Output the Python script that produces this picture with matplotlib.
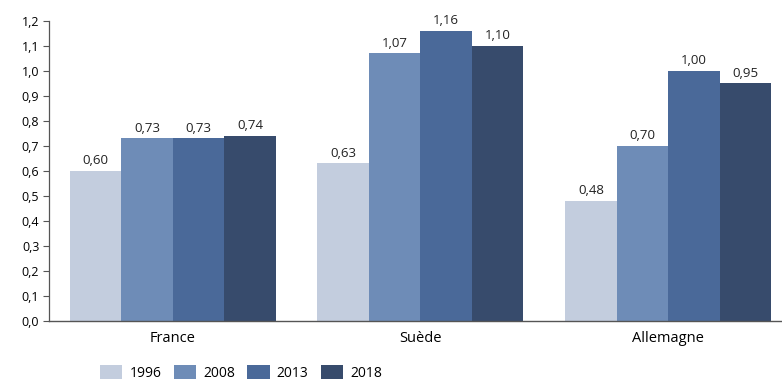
import matplotlib
matplotlib.use("Agg")
import matplotlib.pyplot as plt
import numpy as np

categories = ["France", "Suède", "Allemagne"]
years = ["1996", "2008", "2013", "2018"]
v1996 = [0.60, 0.63, 0.48]
v2008 = [0.73, 1.07, 0.70]
v2013 = [0.73, 1.16, 1.00]
v2018 = [0.74, 1.10, 0.95]
series = [v1996, v2008, v2013, v2018]
colors = ["#C3CDDE", "#6E8CB7", "#4A6999", "#374B6C"]

plt.rcParams['font.family'] = ['Open Sans', 'DejaVu Sans']
fig = plt.figure(figsize=(7.82, 3.81), dpi=100)
ax = fig.add_axes([49/782, 1-321/381, 1-49/782, 300/381])

x = np.arange(len(categories))
w = 0.208
for i, (vals, c, yr) in enumerate(zip(series, colors, years)):
    pos = x + (i - 1.5) * w
    ax.bar(pos, vals, width=w, color=c, label=yr)
    for p, v in zip(pos, vals):
        ax.text(p, v + 0.015, f"{v:.2f}".replace(".", ","), ha="center", va="bottom",
                fontsize=9.5, color="#222222")

ax.set_ylim(0, 1.2)
ax.set_xlim(-0.5, 2.46)
ax.set_yticks(np.arange(0, 1.21, 0.1))
ax.set_yticklabels([f"{t:.1f}".replace(".", ",") for t in np.arange(0, 1.21, 0.1)], fontsize=9)
ax.set_xticks(x)
ax.set_xticklabels(categories, fontsize=10.5)
ax.tick_params(axis='x', length=0, pad=7)
ax.tick_params(axis='y', length=4, width=0.8, color="#555555", pad=3)
for s in ["top", "right"]:
    ax.spines[s].set_visible(False)
ax.spines["left"].set_color("#555555")
ax.spines["bottom"].set_color("#555555")
ax.spines["left"].set_linewidth(0.9)
ax.spines["bottom"].set_linewidth(1.0)

fig.legend(loc="center", bbox_to_anchor=(241/782, 1-373/381), ncol=4, frameon=False,
           fontsize=10, handlelength=1.6, handleheight=1.1, columnspacing=0.9,
           handletextpad=0.5)

fig.savefig("out.png", dpi=100)
